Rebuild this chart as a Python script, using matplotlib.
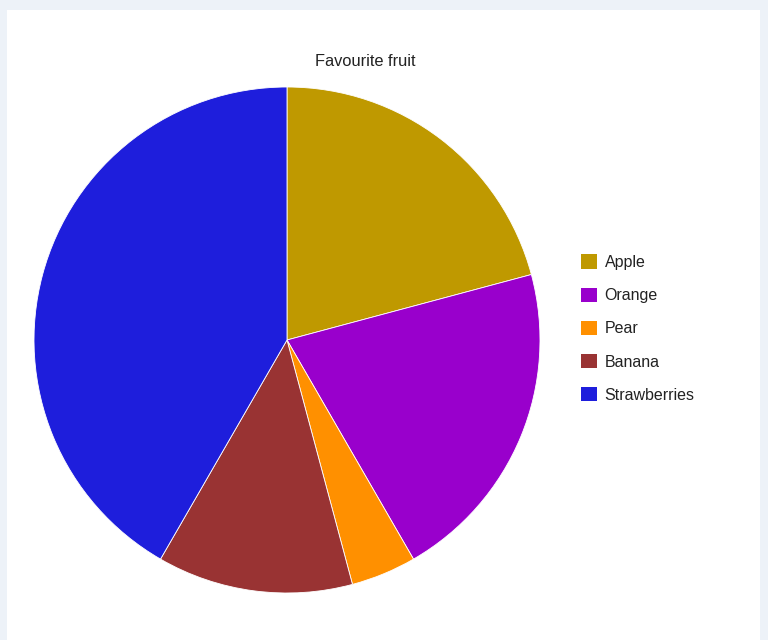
import matplotlib
matplotlib.use("Agg")
import matplotlib.pyplot as plt
from matplotlib.patches import Rectangle

# Data
fruits = ["Apple", "Orange", "Pear", "Banana", "Strawberries"]
votes = [5, 5, 1, 3, 10]
colors = ["#bf9900", "#9900cc", "#ff9000", "#993333", "#1e1edc"]

fig = plt.figure(figsize=(7.68, 6.4), dpi=100)
fig.patch.set_facecolor("#edf2f8")

# white panel, behind everything
fig.patches.append(Rectangle((7 / 768, 0), 753 / 768, 1 - 10 / 640,
                             transform=fig.transFigure, facecolor="white",
                             edgecolor="none", zorder=-10))

ax = fig.add_axes([34 / 768, 47 / 640, 506 / 768, 506 / 640])
ax.set_facecolor("none")
wedges, _ = ax.pie(votes, colors=colors, startangle=90, counterclock=False,
                   wedgeprops=dict(edgecolor="white", linewidth=0.6))
ax.set_xlim(-1.0, 1.0)
ax.set_ylim(-1.0, 1.0)
ax.set_aspect("equal")

fig.text(365 / 768, 1 - 62 / 640, "Favourite fruit", ha="center", va="center",
         fontsize=11.8, color="#222222", family="Liberation Sans")

handles = [Rectangle((0, 0), 1, 1, facecolor=c, edgecolor="none") for c in colors]
leg = fig.legend(handles, fruits, loc="upper left",
                 bbox_to_anchor=(567 / 768, 1 - 240 / 640),
                 frameon=False, handlelength=1.0, handleheight=1.0,
                 handletextpad=0.45, labelspacing=1.1,
                 prop=dict(family="Liberation Sans", size=11.5))
for t in leg.get_texts():
    t.set_color("#222222")

fig.savefig("out.png", dpi=100, facecolor=fig.get_facecolor())
